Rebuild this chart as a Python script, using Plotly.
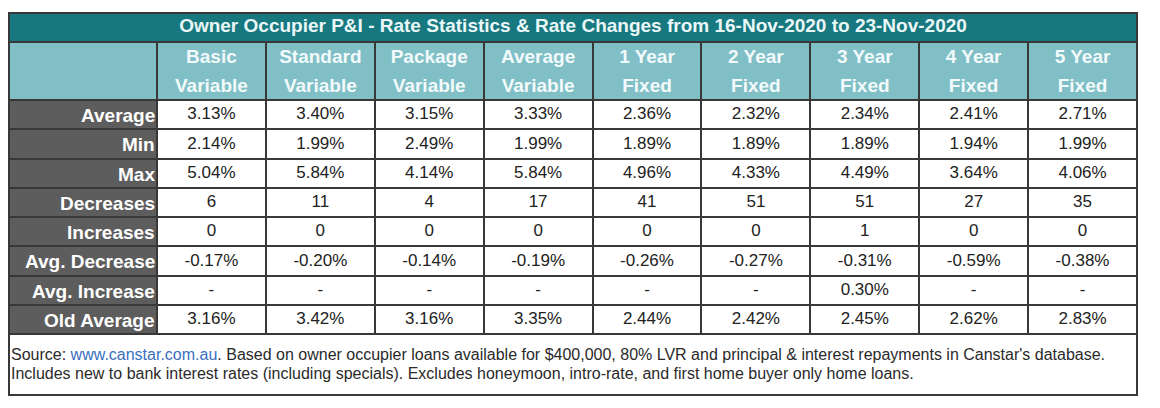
import plotly.graph_objects as go

# The page body keeps the browser's default 8px margin, so the figure is made a bit
# smaller and all geometry below is expressed in window pixels, then offset.
WIN_W, WIN_H = 1160, 408
PAGE_MARGIN = 8
W, H = WIN_W - 2 * PAGE_MARGIN, WIN_H - 2 * PAGE_MARGIN

title_text = "Owner Occupier P&I - Rate Statistics & Rate Changes from 16-Nov-2020 to 23-Nov-2020"
col_line1 = ["Basic", "Standard", "Package", "Average", "1 Year", "2 Year", "3 Year", "4 Year", "5 Year"]
col_line2 = ["Variable", "Variable", "Variable", "Variable", "Fixed", "Fixed", "Fixed", "Fixed", "Fixed"]
row_labels = ["Average", "Min", "Max", "Decreases", "Increases", "Avg. Decrease", "Avg. Increase", "Old Average"]

average = [3.13, 3.40, 3.15, 3.33, 2.36, 2.32, 2.34, 2.41, 2.71]
min_rate = [2.14, 1.99, 2.49, 1.99, 1.89, 1.89, 1.89, 1.94, 1.99]
max_rate = [5.04, 5.84, 4.14, 5.84, 4.96, 4.33, 4.49, 3.64, 4.06]
decreases = [6, 11, 4, 17, 41, 51, 51, 27, 35]
increases = [0, 0, 0, 0, 0, 0, 1, 0, 0]
avg_decrease = [-0.17, -0.20, -0.14, -0.19, -0.26, -0.27, -0.31, -0.59, -0.38]
avg_increase = [None, None, None, None, None, None, 0.30, None, None]
old_average = [3.16, 3.42, 3.16, 3.35, 2.44, 2.42, 2.45, 2.62, 2.83]

footnote_link = "www.canstar.com.au"
footnote_line1 = (". Based on owner occupier loans available for $400,000, 80% LVR and principal "
                  "& interest repayments in Canstar's database.")
footnote_line2 = ("Includes new to bank interest rates (including specials). Excludes honeymoon, "
                  "intro-rate, and first home buyer only home loans.")


def pct(v):
    return "-" if v is None else f"{v:.2f}%"


def cnt(v):
    return "-" if v is None else str(v)


rows = [
    [pct(v) for v in average],
    [pct(v) for v in min_rate],
    [pct(v) for v in max_rate],
    [cnt(v) for v in decreases],
    [cnt(v) for v in increases],
    [pct(v) for v in avg_decrease],
    [pct(v) for v in avg_increase],
    [pct(v) for v in old_average],
]
ncols = len(col_line1)
nrows = len(row_labels)

# ---- geometry in window pixels (axes map 1 unit = 1 px) ----
LEFT, RIGHT = 9, 1137
TITLE_TOP, TITLE_BOT = 13, 42
HEADER_H = 58
ROW_H = 29.25
FIRST_W = 148
COL_W = (RIGHT - LEFT - FIRST_W) / ncols
col_edges = [LEFT, LEFT + FIRST_W] + [LEFT + FIRST_W + COL_W * (i + 1) for i in range(ncols)]
row_edges = [TITLE_BOT, TITLE_BOT + HEADER_H] + [TITLE_BOT + HEADER_H + ROW_H * (i + 1) for i in range(nrows)]
TABLE_BOT = row_edges[-1]
FOOT_BOT = 395
col_mid = [(col_edges[i] + col_edges[i + 1]) / 2 for i in range(len(col_edges) - 1)]
row_mid = [(row_edges[i] + row_edges[i + 1]) / 2 for i in range(len(row_edges) - 1)]

X0, X1 = LEFT - 1, RIGHT + 1
Y0, Y1 = TITLE_TOP - 1, FOOT_BOT + 1

TEAL_DARK = "#18787f"
TEAL_LIGHT = "#80bfc6"
GREY = "#5d5d5d"
LINE = "#383838"
FONT = "Liberation Sans, Arial, Helvetica, sans-serif"

colorscale = [[0, "white"], [1 / 3, GREY], [2 / 3, TEAL_LIGHT], [1, TEAL_DARK]]
hm_common = dict(colorscale=colorscale, zmin=0, zmax=3, showscale=False,
                 hoverinfo="skip", xgap=2, ygap=2)

# cell colour codes: header row = light teal, first column = grey, rest white
z_main = [[2] * (ncols + 1)] + [[1] + [0] * ncols for _ in range(nrows)]

fig = go.Figure()
fig.add_trace(go.Heatmap(x=[LEFT, RIGHT], y=[TITLE_TOP, TITLE_BOT], z=[[3]], **hm_common))
fig.add_trace(go.Heatmap(x=col_edges, y=row_edges, z=z_main, **hm_common))
fig.add_trace(go.Heatmap(x=[LEFT, RIGHT], y=[TABLE_BOT, FOOT_BOT], z=[[0]], **hm_common))

# title
fig.add_trace(go.Scatter(x=[(LEFT + RIGHT) / 2], y=[(TITLE_TOP + TITLE_BOT) / 2], mode="text",
                         text=[f"<b>{title_text}</b>"], textposition="middle center",
                         textfont=dict(family=FONT, size=19, color="#eaf7f8"),
                         hoverinfo="skip", showlegend=False))

# header (two lines per column)
hx, hy, ht = [], [], []
for c in range(ncols):
    hx += [col_mid[c + 1], col_mid[c + 1]]
    hy += [TITLE_BOT + 16.5, TITLE_BOT + 45]
    ht += [f"<b>{col_line1[c]}</b>", f"<b>{col_line2[c]}</b>"]
fig.add_trace(go.Scatter(x=hx, y=hy, mode="text", text=ht, textposition="middle center",
                         textfont=dict(family=FONT, size=19, color="#f2fafb"),
                         hoverinfo="skip", showlegend=False))

# values
vx, vy, vt = [], [], []
for r in range(nrows):
    for c in range(ncols):
        vx.append(col_mid[c + 1])
        vy.append(row_mid[r + 1] + 0.5)
        vt.append(rows[r][c])
fig.add_trace(go.Scatter(x=vx, y=vy, mode="text", text=vt, textposition="middle center",
                         textfont=dict(family=FONT, size=17, color="#222222"),
                         hoverinfo="skip", showlegend=False))

# row labels (right aligned against the grey column edge)
for r, lab in enumerate(row_labels):
    fig.add_annotation(x=col_edges[1] - 1, y=row_mid[r + 1] + 1, xref="x", yref="y",
                       text=f"<b>{lab}</b>", showarrow=False, xanchor="right", yanchor="middle",
                       borderpad=0, font=dict(family=FONT, size=19, color="white"))

# footnote (left aligned)
foot_lines = [f"Source: <span style='color:#3a6fc0'>{footnote_link}</span>{footnote_line1}", footnote_line2]
for i, line in enumerate(foot_lines):
    fig.add_annotation(x=LEFT + 1, y=TABLE_BOT + 20.5 + 18.5 * i, xref="x", yref="y",
                       text=line, showarrow=False, xanchor="left", yanchor="middle",
                       borderpad=0, font=dict(family=FONT, size=16, color="#2a2a2a"))

axis_common = dict(showgrid=False, zeroline=False, showticklabels=False, ticks="",
                   showline=False, fixedrange=True)
fig.update_xaxes(range=[X0, X1], **axis_common)
fig.update_yaxes(range=[Y1, Y0], **axis_common)

fig.update_layout(width=W, height=H,
                  margin=dict(l=X0 - PAGE_MARGIN, r=W - (X1 - PAGE_MARGIN),
                              t=Y0 - PAGE_MARGIN, b=H - (Y1 - PAGE_MARGIN)),
                  paper_bgcolor="white", plot_bgcolor=LINE, showlegend=False)

fig.write_html("out.html")
